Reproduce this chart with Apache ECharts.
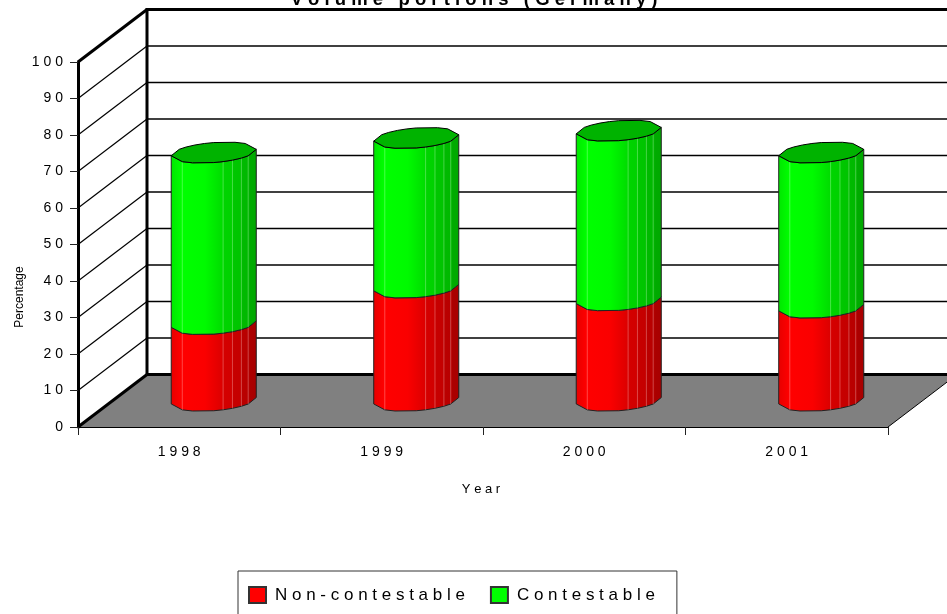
<!DOCTYPE html>
<html>
<head>
<meta charset="utf-8">
<style>
  html, body { margin: 0; padding: 0; background: #fff; }
  #chart { width: 947px; height: 614px; }
</style>
<script src="https://cdn.jsdelivr.net/npm/echarts@6/dist/echarts.min.js"></script>
</head>
<body>
<div id="chart"></div>
<script>
const years = ["1998", "1999", "2000", "2001"];
const nonContestable = [21, 31, 27.5, 25.5];
const contestable = [47, 41, 46.5, 42.5];
const yTicks = [0, 10, 20, 30, 40, 50, 60, 70, 80, 90, 100];

const FONT = '"Liberation Sans", Arial, sans-serif';
const DEPTH_X = 69;
const DEPTH_Y = -52.5;
const BAR_RATIO = 0.42;
const CAP_B = 10;
const CAP_SKEW = 3.2;
// facet edges across the cylinder, -1 is the left side, 1 the right side
const FACETS = [-1, -0.74, -0.5, 0, 0.22, 0.44, 0.65, 0.81, 1];
const FACET_LINES = [-0.74, 0.22, 0.44, 0.65, 0.81];
const SHADE_STOPS = [[0, 0.9], [0.13, 1], [0.4, 0.98], [0.61, 0.86], [0.62, 0.83], [0.72, 0.82], [0.73, 0.78], [0.82, 0.77], [0.83, 0.73], [0.91, 0.72], [0.92, 0.67], [1, 0.66]];

const spaced = (s) => s.split("").join(" ");

function shade(hue, k) {
  const v = Math.round(255 * k);
  return hue === "red" ? `rgb(${v},0,0)` : `rgb(0,${v},0)`;
}

function lowerEdge(cx, cy, rx) {
  return FACETS.map((u) => [cx + u * rx, cy + CAP_B * Math.sqrt(1 - u * u) - CAP_SKEW * u]);
}

function renderWalls(params, api) {
  const v = api.value(0);
  const g = params.coordSys;
  const [, y] = api.coord([0, v]);
  const x0 = g.x;
  const x1 = g.x + g.width;
  const bx = x0 + DEPTH_X;
  const line = (a, b, c, d, w) => ({
    type: "line",
    shape: { x1: a, y1: b, x2: c, y2: d },
    style: { stroke: "#000", lineWidth: w }
  });
  const children = [];
  if (v === 0) {
    children.push({
      type: "polygon",
      shape: { points: [[x0, y], [x1, y], [x1 + DEPTH_X, y + DEPTH_Y], [bx, y + DEPTH_Y]] },
      style: { fill: "#808080" }
    });
    children.push(line(x1, y, x1 + DEPTH_X, y + DEPTH_Y, 1));
  }
  const thick = v === 0 || v === 100;
  children.push(line(x0, y, bx, y + DEPTH_Y, thick ? 3 : 1.2));
  children.push(line(bx, y + DEPTH_Y, x1 + DEPTH_X, y + DEPTH_Y, thick ? 3 : 1.3));
  if (v === 100) {
    const [, y0] = api.coord([0, 0]);
    children.push(line(bx, y + DEPTH_Y - 1.5, bx, y0 + DEPTH_Y, 3));
  }
  return { type: "group", children };
}

function renderCylinder(params, api, hue, capped) {
  const i = api.value(0);
  const [fx, yLo] = api.coord([i, api.value(1)]);
  const [, yHi] = api.coord([i, api.value(2)]);
  const rx = (api.size([1, 0])[0] * BAR_RATIO) / 2;
  const cx = fx + DEPTH_X / 2;
  const lo = lowerEdge(cx, yLo + DEPTH_Y / 2, rx);
  const hi = lowerEdge(cx, yHi + DEPTH_Y / 2, rx);
  const body = hi.concat(lo.slice().reverse());
  const children = [{
    type: "polygon",
    shape: { points: body },
    style: {
      fill: {
        type: "linear", x: 0, y: 0, x2: 1, y2: 0,
        colorStops: SHADE_STOPS.map(([offset, k]) => ({ offset, color: shade(hue, k) }))
      },
      stroke: "#222",
      lineWidth: 1
    }
  }];
  FACET_LINES.forEach((u) => {
    const k = FACETS.indexOf(u);
    children.push({
      type: "line",
      shape: { x1: hi[k][0], y1: hi[k][1], x2: lo[k][0], y2: lo[k][1] },
      style: { stroke: "rgba(255,255,255,0.28)", lineWidth: 1 }
    });
  });
  if (capped) {
    const cy = yHi + DEPTH_Y / 2;
    const upper = hi.slice(1, -1).map(([x, y]) => [2 * cx - x, 2 * cy - y]);
    children.push({
      type: "polygon",
      shape: { points: hi.concat(upper) },
      style: { fill: shade(hue, 0.7), stroke: "#000", lineWidth: 1 }
    });
  }
  return { type: "group", children };
}

const chart = echarts.init(document.getElementById("chart"), null, { renderer: "canvas" });

chart.setOption({
  animation: false,
  backgroundColor: "#fff",
  title: {
    text: "V o l u m e   p o r t i o n s   ( G e r m a n y )",
    left: 469,
    top: -15,
    textAlign: "center",
    textStyle: { fontFamily: FONT, fontSize: 18.5, fontWeight: "bold", color: "#000" }
  },
  legend: {
    data: ["Non-contestable", "Contestable"],
    left: 238,
    top: 571,
    padding: [15, 22, 15, 10],
    itemWidth: 17,
    itemHeight: 16,
    itemGap: 25,
    borderColor: "#333",
    borderWidth: 1,
    icon: "rect",
    formatter: (name) => spaced(name),
    textStyle: { fontFamily: FONT, fontSize: 17, color: "#000", padding: [0, 0, 0, 4] }
  },
  graphic: [{
    type: "text",
    x: 20,
    y: 297,
    rotation: Math.PI / 2,
    style: { text: "Percentage", fontFamily: FONT, fontSize: 12, fill: "#000", align: "center", verticalAlign: "middle" }
  }],
  grid: { left: 78, top: 62, width: 810, height: 365, containLabel: false },
  xAxis: {
    type: "category",
    data: years,
    name: "Y e a r",
    nameLocation: "middle",
    nameGap: 56,
    nameTextStyle: { fontFamily: FONT, fontSize: 13, color: "#000", padding: [0, 4, 0, 0] },
    z: 5,
    axisLine: { lineStyle: { color: "#000", width: 1 } },
    axisTick: { show: true, alignWithLabel: false, inside: false, length: 8, lineStyle: { color: "#222", width: 1 } },
    axisLabel: { formatter: (v) => spaced(v), fontFamily: FONT, fontSize: 14, color: "#000", margin: 18 },
    splitLine: { show: false }
  },
  yAxis: {
    type: "value",
    min: 0,
    max: 100,
    interval: 10,
    z: 5,
    axisLine: { show: true, lineStyle: { color: "#000", width: 3 } },
    axisTick: { show: true, inside: false, length: 8, lineStyle: { color: "#222", width: 1 } },
    axisLabel: { formatter: (v) => spaced(String(v)), fontFamily: FONT, fontSize: 14, color: "#000", margin: 15 },
    splitLine: { show: false }
  },
  series: [
    {
      name: "walls",
      type: "custom",
      z: 1,
      silent: true,
      data: yTicks.map((v) => [v]),
      encode: { y: 0 },
      renderItem: renderWalls
    },
    {
      name: "Non-contestable",
      type: "custom",
      z: 2,
      itemStyle: { color: "#ff0000", borderColor: "#333", borderWidth: 1 },
      data: years.map((_, i) => [i, 0, nonContestable[i]]),
      encode: { x: 0, y: [1, 2] },
      renderItem: (params, api) => renderCylinder(params, api, "red", false)
    },
    {
      name: "Contestable",
      type: "custom",
      z: 3,
      itemStyle: { color: "#00ff00", borderColor: "#333", borderWidth: 1 },
      data: years.map((_, i) => [i, nonContestable[i], nonContestable[i] + contestable[i]]),
      encode: { x: 0, y: [1, 2] },
      renderItem: (params, api) => renderCylinder(params, api, "green", true)
    }
  ]
});

window.addEventListener("resize", () => chart.resize());
</script>
</body>
</html>
